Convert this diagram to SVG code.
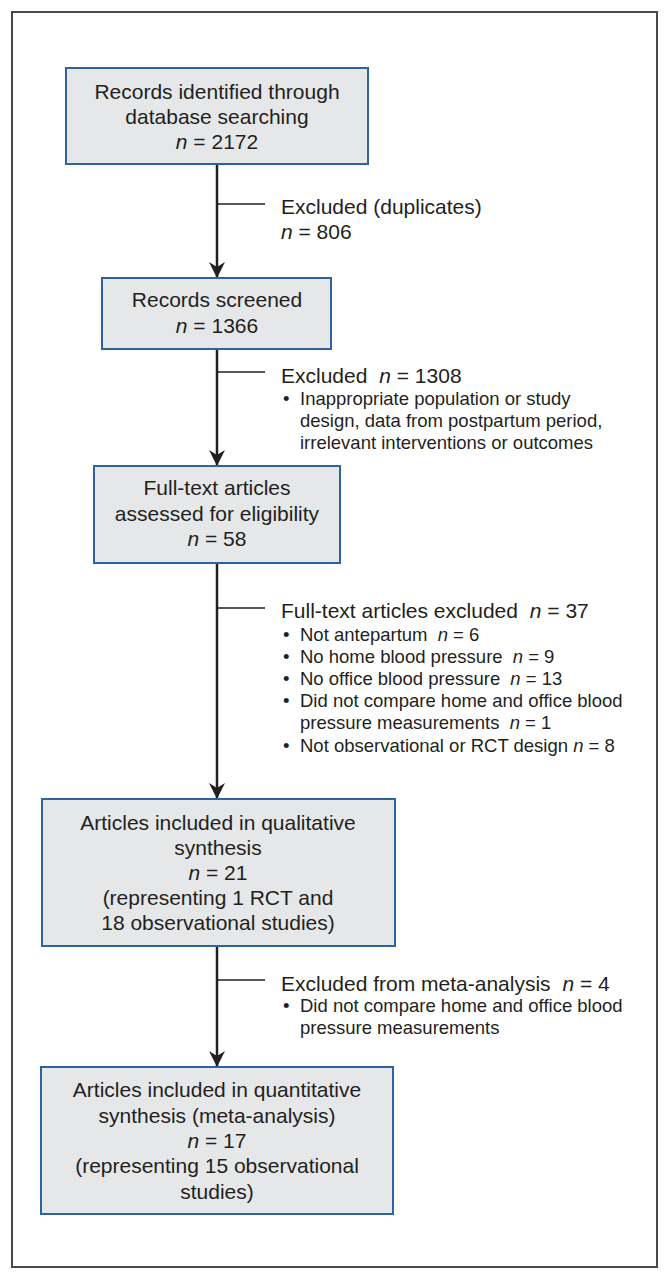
<svg xmlns="http://www.w3.org/2000/svg" width="669" height="1280" viewBox="0 0 669 1280">
<style>
.box{fill:#e6e7e9;stroke:#2c63a0;stroke-width:2}
.bt{font-family:"Liberation Sans",Arial,sans-serif;font-size:21px;fill:#231f20;text-anchor:middle}
.st{font-family:"Liberation Sans",Arial,sans-serif;font-size:21px;fill:#231f20}
.bl{font-family:"Liberation Sans",Arial,sans-serif;font-size:18.5px;fill:#231f20}
.it{font-style:italic}
.conn{stroke:#231f20;stroke-width:2.5;fill:none}
.br{stroke:#231f20;stroke-width:1.3;fill:none}
</style>
<defs>
<marker id="ah" markerUnits="userSpaceOnUse" markerWidth="18" markerHeight="18" viewBox="-17 -9 18 18" refX="0" refY="0" orient="auto"><path d="M0,0 L-16,-8 L-11,0 L-16,8 Z" fill="#231f20"/></marker>
</defs>
<rect x="12" y="12" width="645" height="1255" fill="#fff" stroke="#4a4a4a" stroke-width="2"/>
<g id="connectors">
<line class="conn" x1="217" y1="164" x2="217" y2="278" marker-end="url(#ah)"/>
<line class="conn" x1="217" y1="349" x2="217" y2="466" marker-end="url(#ah)"/>
<line class="conn" x1="217" y1="563" x2="217" y2="799" marker-end="url(#ah)"/>
<line class="conn" x1="217" y1="946" x2="217" y2="1067" marker-end="url(#ah)"/>
<line class="br" x1="217" y1="204" x2="265" y2="204"/>
<line class="br" x1="217" y1="372" x2="265" y2="372"/>
<line class="br" x1="217" y1="608" x2="265" y2="608"/>
<line class="br" x1="217" y1="980" x2="265" y2="980"/>
</g>
<g id="box1">
<rect class="box" x="66" y="68" width="302" height="96"/>
<text class="bt" x="217" y="99">Records identified through</text>
<text class="bt" x="217" y="124">database searching</text>
<text class="bt" x="217" y="149"><tspan class="it">n</tspan> = 2172</text>
</g>
<g id="excl1">
<text class="st" x="281" y="214">Excluded (duplicates)</text>
<text class="st" x="281" y="239"><tspan class="it">n</tspan> = 806</text>
</g>
<g id="box2">
<rect class="box" x="102" y="278" width="229" height="71"/>
<text class="bt" x="217" y="307">Records screened</text>
<text class="bt" x="217" y="333"><tspan class="it">n</tspan> = 1366</text>
</g>
<g id="excl2">
<text class="st" x="281" y="383">Excluded <tspan class="it" dx="6">n</tspan> = 1308</text>
<text class="bl" x="283" y="405">•</text>
<text class="bl" x="300" y="405">Inappropriate population or study</text>
<text class="bl" x="300" y="427">design, data from postpartum period,</text>
<text class="bl" x="300" y="449">irrelevant interventions or outcomes</text>
</g>
<g id="box3">
<rect class="box" x="94" y="466" width="246" height="97"/>
<text class="bt" x="217" y="495">Full-text articles</text>
<text class="bt" x="217" y="521">assessed for eligibility</text>
<text class="bt" x="217" y="546"><tspan class="it">n</tspan> = 58</text>
</g>
<g id="excl3">
<text class="st" x="281" y="618">Full-text articles excluded <tspan class="it" dx="6">n</tspan> = 37</text>
<text class="bl" x="283" y="641">•</text>
<text class="bl" x="300" y="641">Not antepartum <tspan class="it" dx="5">n</tspan> = 6</text>
<text class="bl" x="283" y="663">•</text>
<text class="bl" x="300" y="663">No home blood pressure <tspan class="it" dx="5">n</tspan> = 9</text>
<text class="bl" x="283" y="685">•</text>
<text class="bl" x="300" y="685">No office blood pressure <tspan class="it" dx="5">n</tspan> = 13</text>
<text class="bl" x="283" y="707">•</text>
<text class="bl" x="300" y="707">Did not compare home and office blood</text>
<text class="bl" x="300" y="729">pressure measurements <tspan class="it" dx="5">n</tspan> = 1</text>
<text class="bl" x="283" y="752">•</text>
<text class="bl" x="300" y="752">Not observational or RCT design <tspan class="it">n</tspan> = 8</text>
</g>
<g id="box4">
<rect class="box" x="42" y="799" width="353" height="147"/>
<text class="bt" x="218" y="830">Articles included in qualitative</text>
<text class="bt" x="218" y="855">synthesis</text>
<text class="bt" x="218" y="880"><tspan class="it">n</tspan> = 21</text>
<text class="bt" x="218" y="905">(representing 1 RCT and</text>
<text class="bt" x="218" y="930">18 observational studies)</text>
</g>
<g id="excl4">
<text class="st" x="281" y="991">Excluded from meta-analysis <tspan class="it" dx="6">n</tspan> = 4</text>
<text class="bl" x="283" y="1012">•</text>
<text class="bl" x="300" y="1012">Did not compare home and office blood</text>
<text class="bl" x="300" y="1034">pressure measurements</text>
</g>
<g id="box5">
<rect class="box" x="41" y="1067" width="352" height="147"/>
<text class="bt" x="217" y="1097">Articles included in quantitative</text>
<text class="bt" x="217" y="1123">synthesis (meta-analysis)</text>
<text class="bt" x="217" y="1148"><tspan class="it">n</tspan> = 17</text>
<text class="bt" x="217" y="1173">(representing 15 observational</text>
<text class="bt" x="217" y="1199">studies)</text>
</g>
</svg>
